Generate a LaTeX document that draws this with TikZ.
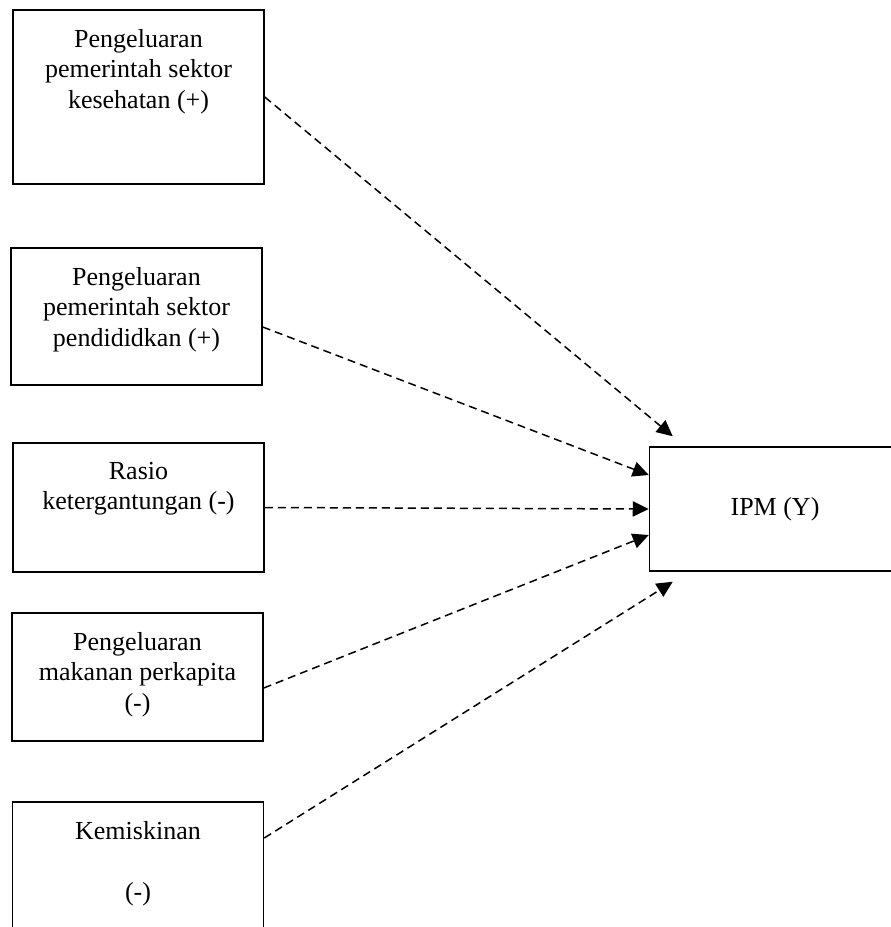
\documentclass[tikz,border=0pt]{standalone}
\usepackage{fontspec}
\setmainfont{Liberation Serif}
\usepackage{tikz}
\usetikzlibrary{positioning,arrows.meta,calc}
\definecolor{ink}{HTML}{000000}

\begin{document}
\begin{tikzpicture}[x=0.5pt,y=-0.5pt,font=\fontsize{13}{15.25}\selectfont,
   varbox/.style={draw=ink,line width=0.75pt,minimum width=125.5pt,inner sep=0pt},
   vartext/.style={anchor=north,align=center,inner sep=0pt},
   link/.style={-{Triangle[length=8pt,width=7.6pt]},draw=ink,line width=0.75pt,dash pattern=on 4pt off 2.5pt}]
\useasboundingbox (0,0) rectangle (890,927);
\node[varbox,minimum height=87pt] (kes) at (138.5,97) {};
\node[varbox,minimum height=68.5pt] (pend) at (136.5,316.5) {};
\node[varbox,minimum height=64.5pt] (rasio) at (138.5,507.5) {};
\node[varbox,minimum height=64pt] (makan) at (137.5,677) {};
\node[varbox,minimum height=80pt] (miskin) at (138,882) {};
\node[varbox,minimum height=62pt] (ipm) at (775,509) {IPM (Y)};
\node[vartext] (kestxt) at ([yshift=-9.8pt]kes.north) {Pengeluaran\\pemerintah sektor\\kesehatan (+)};
\node[vartext] (pendtxt) at ([yshift=-9.8pt]pend.north) {Pengeluaran\\pemerintah sektor\\pendididkan (+)};
\node[vartext] (rasiotxt) at ([yshift=-9.8pt]rasio.north) {Rasio\\ketergantungan (-)};
\node[vartext] (makantxt) at ([yshift=-9.8pt]makan.north) {Pengeluaran\\makanan perkapita\\(-)};
\node[vartext] (miskintxt) at ([yshift=-9.8pt]miskin.north) {Kemiskinan\\[15.25pt](-)};
\draw[link] (kes.east) -- ([xshift=12pt,yshift=5pt]ipm.north west);
\draw[link] ([yshift=-5.25pt]pend.east) -- ([yshift=17pt]ipm.west);
\draw[link] (rasio.east) -- (ipm.west);
\draw[link] ([yshift=-5.5pt]makan.east) -- ([yshift=-13pt]ipm.west);
\draw[link] ([yshift=22pt]miskin.east) -- ([xshift=12pt,yshift=-5pt]ipm.south west);
\end{tikzpicture}
\end{document}
